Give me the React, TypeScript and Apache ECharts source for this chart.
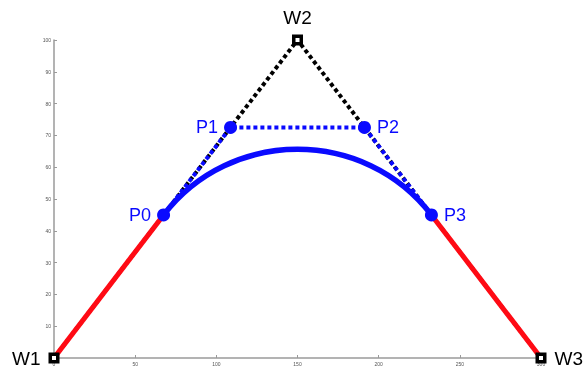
import React, { useEffect, useRef } from "react";
import * as echarts from "echarts";

const wNames = ["W1", "W2", "W3"];
const wPoints = [
  [0, 0],
  [150, 100],
  [300, 0],
];
const pNames = ["P0", "P1", "P2", "P3"];
const pPoints = [
  [67.5, 45],
  [108.75, 72.5],
  [191.25, 72.5],
  [232.5, 45],
];
const xTicks = [0, 50, 100, 150, 200, 250, 300];
const yTicks = [0, 10, 20, 30, 40, 50, 60, 70, 80, 90, 100];

const BLUE = "#0a0aff";
const RED = "#ff0a14";

export default function App() {
  const ref = useRef<HTMLDivElement>(null);
  useEffect(() => {
    if (!ref.current) return;
    const chart = echarts.init(ref.current, null, { renderer: "svg" });
    const labelFont = { fontFamily: "Liberation Sans", fontSize: 19 };
    chart.setOption({
      animation: false,
      grid: { left: 54, right: 43, top: 40, bottom: 11, containLabel: false },
      xAxis: {
        type: "value",
        min: xTicks[0],
        max: xTicks[xTicks.length - 1],
        interval: 50,
        axisLine: { lineStyle: { color: "#9a9a9a", width: 1.5 } },
        axisTick: { inside: true, length: 3, lineStyle: { color: "#9a9a9a" } },
        axisLabel: { fontSize: 5, color: "#555", margin: 3, fontFamily: "Liberation Sans" },
        splitLine: { show: false },
      },
      yAxis: {
        type: "value",
        min: yTicks[0],
        max: yTicks[yTicks.length - 1],
        interval: 10,
        axisLine: { show: true, lineStyle: { color: "#9a9a9a", width: 1.5 } },
        axisTick: { show: true, inside: true, length: 3, lineStyle: { color: "#9a9a9a" } },
        axisLabel: {
          fontSize: 5,
          color: "#555",
          margin: 3,
          fontFamily: "Liberation Sans",
          formatter: (v: number) => (v === 0 ? "" : String(v)),
        },
        splitLine: { show: false },
      },
      series: [
        {
          type: "line",
          data: wPoints,
          symbol: "none",
          lineStyle: { color: "#000", width: 4, type: [4, 3], cap: "butt" },
          z: 1,
        },
        {
          type: "line",
          data: [wPoints[0], pPoints[0]],
          symbol: "none",
          lineStyle: { color: RED, width: 5 },
          z: 2,
        },
        {
          type: "line",
          data: [pPoints[3], wPoints[2]],
          symbol: "none",
          lineStyle: { color: RED, width: 5 },
          z: 2,
        },
        {
          type: "line",
          data: pPoints,
          symbol: "none",
          lineStyle: { color: BLUE, width: 4, type: [4, 3], cap: "butt" },
          z: 3,
        },
        {
          type: "custom",
          data: [[...pPoints[0], ...pPoints[1], ...pPoints[2], ...pPoints[3]]],
          encode: { x: [0, 2, 4, 6], y: [1, 3, 5, 7] },
          clip: false,
          renderItem: (params: any, api: any) => {
            const c = (i: number) => api.coord([api.value(2 * i), api.value(2 * i + 1)]);
            const a = c(0), b = c(1), d = c(2), e = c(3);
            return {
              type: "bezierCurve",
              shape: {
                x1: a[0], y1: a[1],
                cpx1: b[0], cpy1: b[1],
                cpx2: d[0], cpy2: d[1],
                x2: e[0], y2: e[1],
              },
              style: { stroke: BLUE, lineWidth: 5.5, fill: null },
            };
          },
          z: 4,
        },
        {
          type: "scatter",
          data: pPoints.map((p, i) => ({
            value: p,
            name: pNames[i],
            label: { position: i < 2 ? "left" : "right" },
          })),
          symbol: "circle",
          symbolSize: 13,
          itemStyle: { color: BLUE, opacity: 1 },
          label: {
            show: true,
            formatter: (p: any) => p.name,
            color: BLUE,
            distance: 6,
            ...labelFont,
            fontSize: 18,
          },
          z: 5,
        },
        {
          type: "scatter",
          data: wPoints.map((p, i) => ({
            value: p,
            name: wNames[i],
            label: { position: i === 0 ? "left" : i === 1 ? "top" : "right" },
          })),
          symbol: "rect",
          symbolSize: 7.5,
          itemStyle: { color: "#fff", borderColor: "#000", borderWidth: 3.5, opacity: 1 },
          label: {
            show: true,
            formatter: (p: any) => p.name,
            color: "#000",
            distance: 8,
            ...labelFont,
          },
          z: 6,
        },
      ],
    });
    return () => chart.dispose();
  }, []);
  return (
    <div
      ref={ref}
      style={{ position: "fixed", left: 0, top: 0, width: 584, height: 369 }}
    />
  );
}
